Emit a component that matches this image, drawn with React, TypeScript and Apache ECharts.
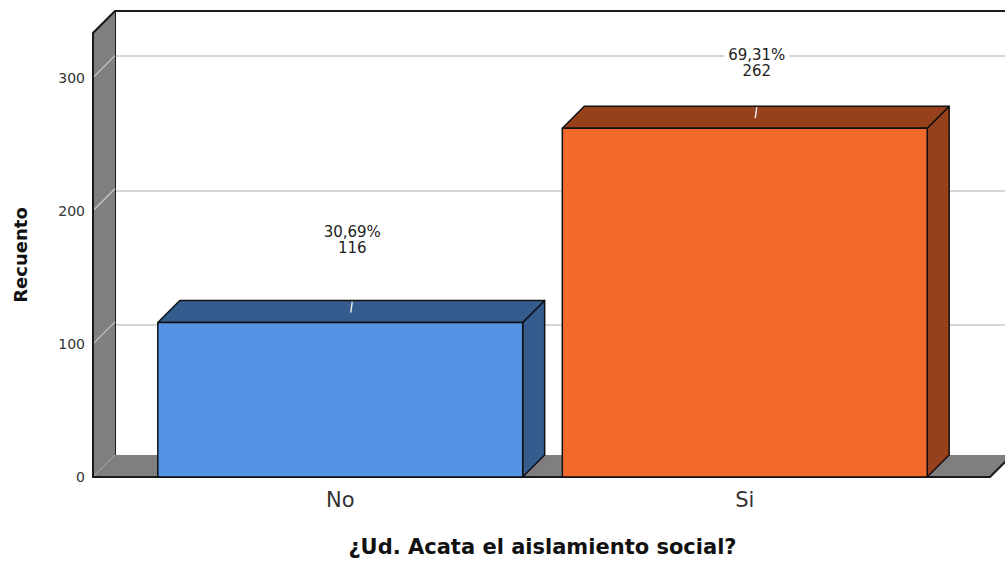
import { useEffect, useRef } from "react";
import * as echarts from "echarts";

// Counts per answer
const CATEGORIES = ["No", "Si"];
const COUNTS = [116, 262];
const Y_TICKS = [0, 100, 200, 300];

// Palette: front face and shaded (top/side) face per category
const FRONT_COLORS = ["#5594E4", "#F2692C"];
const SHADE_COLORS = ["#345C8F", "#97401C"];
const WALL_GRAY = "#7f7f7f";

// Layout constants
const Y_MAX = 333.5;
const DEPTH = 22;
const PAD_L = 45; // wall/floor reach beyond the category band on the left
const PAD_R = 43; // floor reach beyond the category band on the right
const BAR_RATIO = 0.902;
const LABEL_LIFT = [83, 65];
const FONT = "DejaVu Sans";

const TOTAL = COUNTS.reduce((a, b) => a + b, 0);
const pctText = (c: number) => ((c / TOTAL) * 100).toFixed(2).replace(".", ",") + "%";

export default function App() {
  const ref = useRef<HTMLDivElement>(null);

  useEffect(() => {
    document.body.style.margin = "0";
    const chart = echarts.init(ref.current!, undefined, { renderer: "svg" });

    const frameRender = (params: any, api: any) => {
      const cs = params.coordSys;
      const left = cs.x - PAD_L;
      const right = cs.x + cs.width + PAD_R;
      const yBase = api.coord([0, 0])[1];
      const yTop = api.coord([0, Y_MAX])[1];
      const children: any[] = [];
      // side wall
      children.push({
        type: "polygon",
        shape: { points: [[left, yTop], [left + DEPTH, yTop - DEPTH], [left + DEPTH, yBase - DEPTH], [left, yBase]] },
        style: { fill: WALL_GRAY, stroke: "none" },
      });
      // grid lines on the side wall
      Y_TICKS.slice(1).forEach((t) => {
        const y = api.coord([0, t])[1];
        children.push({
          type: "line",
          shape: { x1: left, y1: y, x2: left + DEPTH, y2: y - DEPTH },
          style: { stroke: "#c8c8c8", lineWidth: 1.2 },
        });
      });
      // floor
      children.push({
        type: "polygon",
        shape: { points: [[left, yBase], [left + DEPTH, yBase - DEPTH], [right + DEPTH, yBase - DEPTH], [right, yBase]] },
        style: { fill: WALL_GRAY, stroke: "none" },
      });
      children.push({
        type: "line",
        shape: { x1: left, y1: yBase, x2: left + DEPTH, y2: yBase - DEPTH },
        style: { stroke: "#a8a8a8", lineWidth: 1 },
      });
      // outer edges
      children.push({
        type: "polyline",
        shape: { points: [[left + DEPTH, yTop - DEPTH], [left, yTop], [left, yBase], [right, yBase], [right + DEPTH, yBase - DEPTH]] },
        style: { stroke: "#1a1a1a", lineWidth: 2, fill: "none" },
      });
      return { type: "group", children };
    };

    const barRender = (params: any, api: any) => {
      const idx = api.value(0);
      const v = api.value(1);
      const [cx, yT] = api.coord([idx, v]);
      const yB = api.coord([idx, 0])[1];
      const w = api.size([1, 0])[0] * BAR_RATIO;
      const x0 = cx - w / 2;
      const x1 = cx + w / 2;
      const edge = { stroke: "#111", lineWidth: 1.5, lineJoin: "round" };
      return {
        type: "group",
        children: [
          {
            type: "polygon",
            shape: { points: [[x1, yT], [x1 + DEPTH, yT - DEPTH], [x1 + DEPTH, yB - DEPTH], [x1, yB]] },
            style: { fill: SHADE_COLORS[idx], ...edge },
          },
          {
            type: "polygon",
            shape: { points: [[x0, yT], [x0 + DEPTH, yT - DEPTH], [x1 + DEPTH, yT - DEPTH], [x1, yT]] },
            style: { fill: SHADE_COLORS[idx], ...edge },
          },
          {
            type: "rect",
            shape: { x: x0, y: yT, width: w, height: yB - yT },
            style: { fill: FRONT_COLORS[idx], ...edge },
          },
          {
            type: "line",
            shape: { x1: cx + 12, y1: yT - DEPTH + 1, x2: cx + 10.5, y2: yT - DEPTH + 12 },
            style: { stroke: "#e4e4e4", lineWidth: 1.5 },
          },
          {
            type: "text",
            style: {
              text: pctText(COUNTS[idx]) + "\n" + COUNTS[idx],
              x: cx + 12,
              y: yT - LABEL_LIFT[idx],
              align: "center",
              verticalAlign: "middle",
              fontFamily: FONT,
              fontSize: 15,
              lineHeight: 16,
              fill: "#222",
              backgroundColor: "#fff",
              padding: [0, 4],
            },
          },
        ],
      };
    };

    chart.setOption({
      animation: false,
      backgroundColor: "#fff",
      grid: [
        { left: 138, right: 58, top: 33, bottom: 81 },
        { left: 115, right: 0, top: 11, bottom: 103 },
      ],
      xAxis: [
        {
          gridIndex: 0,
          type: "category",
          data: CATEGORIES,
          axisLine: { show: false },
          axisTick: { show: false },
          axisLabel: { fontFamily: FONT, fontSize: 21, color: "#333", margin: 12 },
          name: "¿Ud. Acata el aislamiento social?",
          nameLocation: "middle",
          nameGap: 59,
          nameTextStyle: { fontFamily: FONT, fontSize: 21, fontWeight: "bold", color: "#111" },
        },
        {
          gridIndex: 1,
          type: "value",
          position: "top",
          min: 0,
          max: 1,
          axisLine: { show: true, onZero: false, lineStyle: { color: "#1a1a1a", width: 2 } },
          axisTick: { show: false },
          axisLabel: { show: false },
          splitLine: { show: false },
        },
      ],
      yAxis: [
        {
          gridIndex: 0,
          type: "value",
          min: 0,
          max: Y_MAX,
          interval: 100,
          offset: PAD_L,
          axisLine: { show: false },
          axisTick: { show: false },
          splitLine: { show: false },
          axisLabel: {
            fontFamily: FONT,
            fontSize: 14,
            color: "#333",
            margin: 8,
            showMaxLabel: false,
            formatter: (v: number) => (Y_TICKS.includes(v) ? String(v) : ""),
          },
          name: "Recuento",
          nameLocation: "middle",
          nameGap: 64,
          nameTextStyle: { fontFamily: FONT, fontSize: 18, fontWeight: "bold", color: "#111" },
        },
        {
          gridIndex: 1,
          type: "value",
          min: 0,
          max: Y_MAX,
          interval: 100,
          axisLine: { show: true, onZero: false, lineStyle: { color: "#1a1a1a", width: 2 } },
          axisTick: { show: false },
          axisLabel: { show: false },
          splitLine: { show: true, lineStyle: { color: "#c8c8c8", width: 1.5 } },
        },
      ],
      series: [
        {
          type: "custom",
          xAxisIndex: 0,
          yAxisIndex: 0,
          z: 1,
          clip: false,
          silent: true,
          renderItem: frameRender,
          data: [[0, 0]],
        },
        {
          type: "custom",
          xAxisIndex: 0,
          yAxisIndex: 0,
          z: 3,
          clip: false,
          renderItem: barRender,
          encode: { x: 0, y: 1 },
          data: COUNTS.map((c, i) => [i, c]),
        },
      ],
    });

    return () => chart.dispose();
  }, []);

  return <div ref={ref} style={{ width: 1005, height: 562 }} />;
}
